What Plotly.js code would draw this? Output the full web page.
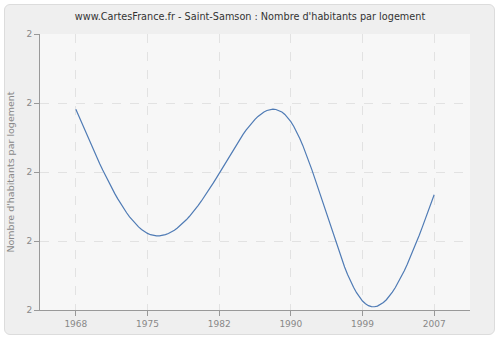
<!DOCTYPE html>
<html>
<head>
<meta charset="utf-8">
<script src="https://cdn.plot.ly/plotly-3.0.1.min.js"></script>
<style>
html,body{margin:0;padding:0;background:#fff;}
#bg{position:absolute;left:4px;top:4px;width:489px;height:329px;background:#efefef;border:1px solid #dcdcdc;border-radius:6px;}
#chart{position:absolute;left:0;top:0;width:500px;height:340px;}
</style>
</head>
<body>
<div id="bg"></div>
<div id="chart"></div>
<script>
const years = ["1968","1975","1982","1990","1999","2007"];
const values = [2.291, 2.111, 2.198, 2.273, 2.013, 2.167];
const yTicks = [2.0, 2.1, 2.2, 2.3, 2.4];

// natural cubic spline through the points (categories evenly spaced) – drawing only
function naturalSpline(ys, steps) {
  const n = ys.length, m = new Array(n).fill(0);
  const a = [], b = [], c = [], d = [];
  for (let i = 1; i < n - 1; i++) { a.push(1); b.push(4); c.push(1); d.push(6 * (ys[i+1] - 2*ys[i] + ys[i-1])); }
  const k = d.length;
  for (let i = 1; i < k; i++) { const w = a[i] / b[i-1]; b[i] -= w * c[i-1]; d[i] -= w * d[i-1]; }
  const sol = new Array(k);
  for (let i = k - 1; i >= 0; i--) sol[i] = (d[i] - (i < k - 1 ? c[i] * sol[i+1] : 0)) / b[i];
  for (let i = 0; i < k; i++) m[i+1] = sol[i];
  const xs = [], out = [];
  for (let i = 0; i < n - 1; i++) {
    for (let s = 0; s < steps; s++) {
      const t = s / steps;
      const y = (1-t)*ys[i] + t*ys[i+1] + ((Math.pow(1-t,3)-(1-t))*m[i] + (Math.pow(t,3)-t)*m[i+1]) / 6;
      xs.push(i + t); out.push(y);
    }
  }
  xs.push(n - 1); out.push(ys[n-1]);
  return {xs, ys: out};
}
const curve = naturalSpline(values, 24);
const idx = years.map((_, i) => i);

const lineTrace = {
  x: curve.xs, y: curve.ys, type: 'scatter', mode: 'lines',
  line: {color: '#4f7bb5', width: 1.2}, hoverinfo: 'skip'
};
const pointTrace = {
  x: idx, y: values, type: 'scatter', mode: 'markers',
  marker: {size: 1, color: '#4f7bb5', opacity: 0}, text: years, hoverinfo: 'text+y'
};
const layout = {
  width: 500, height: 340,
  margin: {l: 40, r: 30, t: 34, b: 30},
  paper_bgcolor: 'rgba(0,0,0,0)',
  plot_bgcolor: '#f7f7f7',
  font: {family: 'DejaVu Sans, Verdana, sans-serif', size: 9, color: '#888'},
  title: {text: "www.CartesFrance.fr - Saint-Samson : Nombre d'habitants par logement",
          font: {size: 9.7, color: '#333'}, x: 0.5, xanchor: 'center', y: 0.95, yanchor: 'middle'},
  showlegend: false,
  xaxis: {
    range: [-0.5, 5.5], tickvals: idx, ticktext: years,
    showline: true, linecolor: '#999', linewidth: 1,
    ticks: 'outside', ticklen: 5, tickcolor: '#999',
    showgrid: true, gridcolor: '#e2e2e2', griddash: 'dash', gridwidth: 1,
    zeroline: false, fixedrange: true
  },
  yaxis: {
    range: [2.0, 2.4], tickvals: yTicks, tickformat: '.0f',
    showline: true, linecolor: '#999', linewidth: 1,
    ticks: 'outside', ticklen: 5, tickcolor: '#999',
    showgrid: true, gridcolor: '#e2e2e2', griddash: 'dash', gridwidth: 1,
    zeroline: false, fixedrange: true,
    title: {text: "Nombre d'habitants par logement", font: {size: 9.5, color: '#888'}, standoff: 10}
  }
};
Plotly.newPlot('chart', [lineTrace, pointTrace], layout, {displayModeBar: false, staticPlot: true});
</script>
</body>
</html>
